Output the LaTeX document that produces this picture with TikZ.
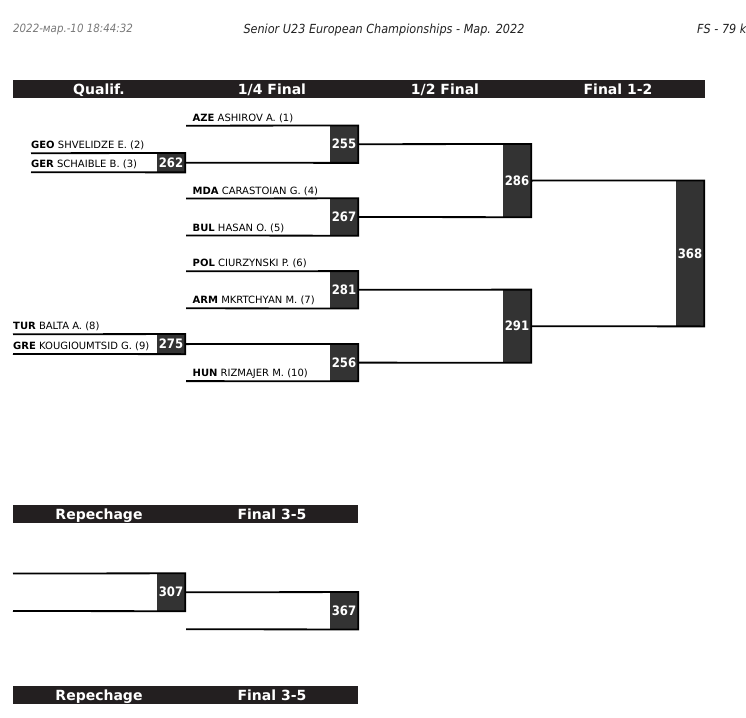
\documentclass[tikz,border=0pt]{standalone}
\usepackage{fontspec}
\setmainfont{DejaVu Sans}
\newfontfamily\condfont{DejaVu Sans Condensed}
\definecolor{barc}{HTML}{231F20}
\definecolor{boxc}{HTML}{333333}
\definecolor{datec}{HTML}{777777}
\definecolor{titc}{HTML}{222222}
\tikzset{
  br/.style={line width=1.8pt, black},
  box/.style={rectangle, fill=boxc, inner sep=0pt, minimum width=28pt, text=white,
     font=\condfont\bfseries\fontsize{13}{14}\selectfont},
  bar/.style={rectangle, fill=barc, inner sep=0pt, anchor=north west},
  hdrtxt/.style={anchor=base, inner sep=0pt, text=white, font=\bfseries\fontsize{14}{16}\selectfont},
  namelbl/.style={anchor=base west, inner sep=0pt, font=\fontsize{10}{12}\selectfont},
  toptxt/.style={inner sep=0pt, font=\condfont\itshape\fontsize{12.5}{14}\selectfont, text=titc}
}
\begin{document}
\begin{tikzpicture}[x=1pt,y=-1pt]
\useasboundingbox (0,0) rectangle (746,717);

% top line texts
\node[toptxt, anchor=base west, text=datec, font=\condfont\itshape\fontsize{11.4}{13}\selectfont] (date) at (13,33) {2022-мар.-10 18:44:32};
\node[toptxt, anchor=base] (title) at (384,34) {Senior U23 European Championships - Мар. 2022};
\node[toptxt, anchor=base west] (cat) at (697,34) {FS - 79 kg};

% header bar
\node[bar, minimum width=692pt, minimum height=17.7pt] (hdr) at (13,80) {};
\node[hdrtxt] (h1) at (99,94) {Qualif.};
\node[hdrtxt] (h2) at (272,94) {1/4 Final};
\node[hdrtxt] (h3) at (445,94) {1/2 Final};
\node[hdrtxt] (h4) at (618,94) {Final 1-2};

% qualification boxes
\node[box, minimum height=19pt] (m262) at (171,162.7) {262};
\node[box, minimum height=19.7pt] (m275) at (171,344.1) {275};
% quarter final boxes
\node[box, minimum height=37pt] (m255) at (344,144.2) {255};
\node[box, minimum height=37pt] (m267) at (344,217.0) {267};
\node[box, minimum height=37pt] (m281) at (344,289.8) {281};
\node[box, minimum height=37pt] (m256) at (344,362.6) {256};
% semi final boxes
\node[box, minimum height=72.8pt] (m286) at (517,180.6) {286};
\node[box, minimum height=72.8pt] (m291) at (517,326.2) {291};
% final box
\node[box, minimum height=145.6pt] (m368) at (690,253.4) {368};

% free line ends
\coordinate (q262a) at (31,153.2);
\coordinate (q262b) at (31,172.2);
\coordinate (q275a) at (13,334.25);
\coordinate (q275b) at (13,353.95);
\coordinate (f255a) at (186,125.7);
\coordinate (f267a) at (186,198.5);
\coordinate (f267b) at (186,235.5);
\coordinate (f281a) at (186,271.3);
\coordinate (f281b) at (186,308.3);
\coordinate (f256b) at (186,381.1);

% brackets
\draw[br] (q262a) -- (m262.north east) -- (m262.south east) -- (q262b);
\draw[br] (q275a) -- (m275.north east) -- (m275.south east) -- (q275b);
\draw[br] (f255a) -- (m255.north east) -- (m255.south east) -- (m262.east);
\draw[br] (f267a) -- (m267.north east) -- (m267.south east) -- (f267b);
\draw[br] (f281a) -- (m281.north east) -- (m281.south east) -- (f281b);
\draw[br] (m275.east) -- (m256.north east) -- (m256.south east) -- (f256b);
\draw[br] (m255.east) -- (m286.north east) -- (m286.south east) -- (m267.east);
\draw[br] (m281.east) -- (m291.north east) -- (m291.south east) -- (m256.east);
\draw[br] (m286.east) -- (m368.north east) -- (m368.south east) -- (m291.east);

% athlete labels
\node[namelbl] (a1) at (192.5,121.2) {\textbf{AZE} ASHIROV A. (1)};
\node[namelbl] (a2) at (31,148.7) {\textbf{GEO} SHVELIDZE E. (2)};
\node[namelbl] (a3) at (31,167.7) {\textbf{GER} SCHAIBLE B. (3)};
\node[namelbl] (a4) at (192.5,194) {\textbf{MDA} CARASTOIAN G. (4)};
\node[namelbl] (a5) at (192.5,231) {\textbf{BUL} HASAN O. (5)};
\node[namelbl] (a6) at (192.5,266.8) {\textbf{POL} CIURZYNSKI P. (6)};
\node[namelbl] (a7) at (192.5,303.8) {\textbf{ARM} MKRTCHYAN M. (7)};
\node[namelbl] (a8) at (13,329.8) {\textbf{TUR} BALTA A. (8)};
\node[namelbl] (a9) at (13,349.5) {\textbf{GRE} KOUGIOUMTSID G. (9)};
\node[namelbl] (a10) at (192.5,376.6) {\textbf{HUN} RIZMAJER M. (10)};

% repechage section 1
\node[bar, minimum width=345pt, minimum height=17.7pt] (rep1) at (13,505) {};
\node[hdrtxt] (r1a) at (99,519) {Repechage};
\node[hdrtxt] (r1b) at (272,519) {Final 3-5};

\node[box, minimum height=37.5pt] (m307) at (171,592.25) {307};
\node[box, minimum height=37pt] (m367) at (344,610.75) {367};
\coordinate (p307a) at (13,573.5);
\coordinate (p307b) at (13,611);
\coordinate (p367b) at (186,629.25);
\draw[br] (p307a) -- (m307.north east) -- (m307.south east) -- (p307b);
\draw[br] (m307.east) -- (m367.north east) -- (m367.south east) -- (p367b);

% repechage section 2
\node[bar, minimum width=345pt, minimum height=17.7pt] (rep2) at (13,686) {};
\node[hdrtxt] (r2a) at (99,700) {Repechage};
\node[hdrtxt] (r2b) at (272,700) {Final 3-5};
\end{tikzpicture}
\end{document}
